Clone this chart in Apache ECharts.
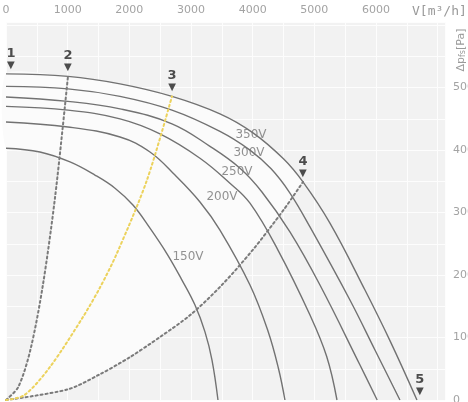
<!DOCTYPE html>
<html><head><meta charset="utf-8">
<script src="https://cdn.jsdelivr.net/npm/echarts@6/dist/echarts.min.js"></script>
<style>html,body{margin:0;padding:0;background:#fff}#c{width:468px;height:402px}</style>
</head><body><div id="c"></div>
<script>
// ---- data (V in m³/h, Δp in Pa) ----
const xTickValues = [0, 1000, 2000, 3000, 4000, 5000, 6000];
const yTickValues = [0, 100, 200, 300, 400, 500];
const curveLabelTexts = ['350V', '300V', '250V', '200V', '150V'];
const curveLabelAnchors = [[3973, 424], [3941, 395], [3746, 365], [3503, 325], [2951, 229]];

const curve350 = [[0,522],[1005,518],[1849,506],[2692,486],[3470,458],[4000,428],[4500,386],[4816,349],[5254,283],[5822,176],[6227,95],[6665,0]];
const curve300 = [[0,502],[1005,498],[1849,486],[2692,464],[3470,430],[3957,400],[4300,370],[4600,332],[4930,277],[5578,160],[5984,80],[6389,0]];
const curve250 = [[0,485],[1005,478],[1849,466],[2692,442],[3308,406],[3795,371],[4151,333],[4605,269],[5092,184],[5741,56],[6020,0]];
const curve200 = [[0,470],[1005,464],[1849,450],[2497,426],[3146,387],[3632,347],[3957,315],[4411,240],[4930,136],[5200,70],[5368,0]];
const curveMid = [[0,445],[1005,437],[1849,421],[2335,397],[2741,360],[3146,317],[3470,272],[3957,184],[4250,110],[4420,50],[4524,0]];
const curve150 = [[0,403],[551,397],[1038,381],[1443,360],[1768,339],[2059,312],[2335,275],[2611,234],[2854,192],[3065,152],[3227,109],[3341,64],[3438,0]];

const systemLine2 = [[0,0],[200,21],[400,82],[600,185],[800,328],[1005,518]];
const systemLine3 = [[0,0],[300,8],[714,53],[1249,133],[1524,180],[1800,235],[2286,352],[2692,486]];
const systemLine4 = [[0,0],[1000,17],[1500,40],[2000,68],[2500,101],[3000,137],[3500,184],[4000,240],[4500,304],[4816,349]];
const line2Curve150Cross = [865, 383];

const markerTexts = ['1', '2', '3', '4', '5'];
const markerPoints = [[80,521],[1005,518],[2692,486],[4816,349],[6710,0]];

// ---- build ----
const fanCurves = [curve350, curve300, curve250, curve200, curveMid, curve150];
const regionVerts = [].concat(
  systemLine4,
  curve350.filter(p => p[0] <= 4816).reverse(),
  curve150.filter(p => p[0] < line2Curve150Cross[0]),
  [line2Curve150Cross],
  systemLine2.filter(p => p[0] < line2Curve150Cross[0]).reverse()
);

const labelFont = 'DejaVu Sans';
const series = [];
series.push({
  type: 'custom', silent: true, z: 1, data: [[0, 0]],
  renderItem: (params, api) => ({
    type: 'polygon',
    shape: { points: regionVerts.map(p => api.coord(p)), smooth: 0.2 },
    style: { fill: '#fbfbfb' }
  })
});
fanCurves.forEach(d => series.push({
  type: 'line', data: d, smooth: 0.4, showSymbol: false, silent: true,
  lineStyle: { color: '#727272', width: 1.4 }, z: 3
}));
[[systemLine2, '#7a7a7a'], [systemLine4, '#7a7a7a'], [systemLine3, '#ecd25c']].forEach(([d, c]) => series.push({
  type: 'line', data: d, smooth: 0.3, showSymbol: false, silent: true,
  lineStyle: { color: c, width: 2, type: [2, 3], cap: 'round' }, z: 4
}));
series.push({
  type: 'scatter', silent: true, z: 6, symbolSize: 0,
  data: curveLabelAnchors.map((p, i) => [p[0], p[1], curveLabelTexts[i]]),
  label: { show: true, position: 'inside', formatter: p => p.value[2],
    fontFamily: labelFont, fontSize: 12, color: '#777777' }
});
series.push({
  type: 'scatter', silent: true, z: 7, symbolSize: 0,
  data: markerPoints,
  label: { show: true, position: 'top', distance: 4,
    formatter: p => '{n|' + markerTexts[p.dataIndex] + '}\n{a|▼}',
    rich: {
      n: { fontFamily: labelFont, fontSize: 13, fontWeight: 'bold', color: '#222', lineHeight: 13, align: 'center' },
      a: { fontFamily: labelFont, fontSize: 10, color: '#222', lineHeight: 10, align: 'center' }
    }
  }
});

const chart = echarts.init(document.getElementById('c'));
chart.setOption({
  animation: false,
  backgroundColor: '#ffffff',
  grid: { left: 6, right: 23, top: 22, bottom: 2, show: true, backgroundColor: '#f2f2f2', borderWidth: 0,
    containLabel: false, outerBoundsMode: 'none' },
  xAxis: {
    type: 'value', position: 'top', min: 0, max: 7120, interval: 500,
    axisLine: { show: false }, axisTick: { show: false },
    splitLine: { show: true, lineStyle: { color: '#fdfdfd', width: 1 } },
    axisLabel: { margin: 6, fontFamily: labelFont, fontSize: 11, color: '#a3a3a3',
      formatter: v => xTickValues.includes(v) ? String(v) : '' ,
      showMaxLabel: false }
  },
  yAxis: {
    type: 'value', position: 'right', min: 0, max: 605, interval: 50,
    axisLine: { show: false }, axisTick: { show: false },
    splitLine: { show: true, lineStyle: { color: '#fdfdfd', width: 1 } },
    axisLabel: { margin: 8, fontFamily: labelFont, fontSize: 11, color: '#a3a3a3',
      formatter: v => yTickValues.includes(v) ? String(v) : '',
      showMaxLabel: false }
  },
  graphic: [
    { type: 'text', x: 412, y: 12, silent: true,
      style: { text: 'V[m³/h]', font: '13px "DejaVu Sans Mono"', fill: '#9a9a9a', align: 'left', verticalAlign: 'middle' } },
    { type: 'text', x: 461, y: 50, rotation: Math.PI / 2, silent: true,
      style: { text: '{a|Δp}{b|fs}{a|[Pa]}', align: 'center', verticalAlign: 'middle',
        rich: { a: { font: '11px "DejaVu Sans"', fill: '#9a9a9a' }, b: { font: '8px "DejaVu Sans"', fill: '#9a9a9a', verticalAlign: 'bottom' } } } }
  ],
  series: series
});
</script>
</body></html>
